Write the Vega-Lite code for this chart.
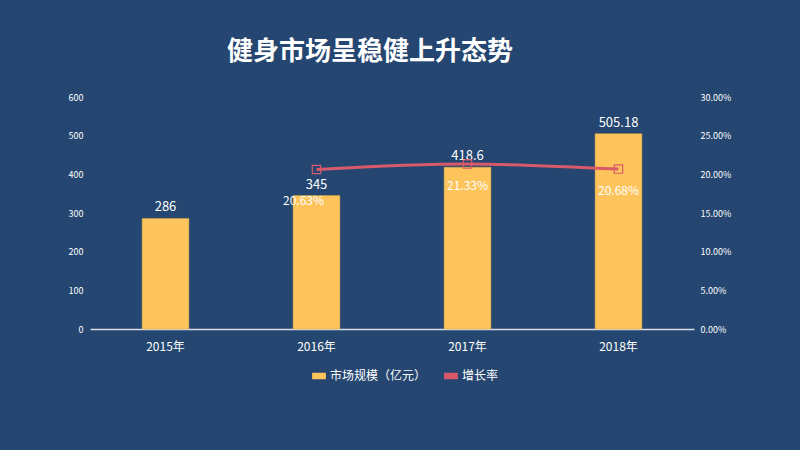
{
  "$schema": "https://vega.github.io/schema/vega-lite/v6.json",
  "autosize": {"type": "none"},
  "width": 604,
  "height": 232,
  "padding": {"left": 90, "top": 97, "right": 106, "bottom": 121},
  "background": "#254670",
  "title": {
    "text": "健身市场呈稳健上升态势",
    "anchor": "middle",
    "dx": -22,
    "offset": 28,
    "fontSize": 26,
    "fontWeight": "bold",
    "color": "#ffffff",
    "font": "Noto Sans CJK SC"
  },
  "config": {
    "view": {"stroke": null},
    "font": "Noto Sans CJK SC",
    "axis": {"grid": false, "ticks": false, "labelColor": "#ffffff", "titleColor": "#ffffff", "labelOverlap": false},
    "legend": {"labelColor": "#ffffff"}
  },
  "data": {
    "values": [
      {"year": "2015年", "size": 286, "rate": null},
      {"year": "2016年", "size": 345, "rate": 0.2063},
      {"year": "2017年", "size": 418.6, "rate": 0.2133},
      {"year": "2018年", "size": 505.18, "rate": 0.2068}
    ]
  },
  "encoding": {
    "x": {
      "field": "year",
      "type": "nominal",
      "sort": null,
      "scale": {"paddingInner": 0.69, "paddingOuter": 0.345},
      "axis": {
        "title": null,
        "labelAngle": 0,
        "labelFontSize": 12,
        "labelPadding": 12,
        "domainColor": "#d9dde5",
        "domainWidth": 1.5
      }
    }
  },
  "layer": [
    {
      "encoding": {
        "y": {
          "field": "size",
          "type": "quantitative",
          "scale": {"domain": [0, 600]},
          "axis": {
            "title": null,
            "values": [0, 100, 200, 300, 400, 500, 600],
            "tickCount": 7,
            "labelOverlap": false,
            "labelFontSize": 9,
            "labelPadding": 7,
            "domain": false
          }
        }
      },
      "layer": [
        {
          "mark": {"type": "bar", "stroke": "#d8a84a", "strokeWidth": 0.5},
          "encoding": {
            "color": {
              "datum": "市场规模（亿元）",
              "type": "nominal",
              "scale": {"domain": ["市场规模（亿元）", "增长率"], "range": ["#fdc45c", "#d95a6b"]},
              "legend": {
                "title": null,
                "orient": "none",
                "legendX": 222,
                "legendY": 272,
                "direction": "horizontal",
                "labelFontSize": 12,
                "symbolType": "M-1,-0.4H1V0.4H-1Z",
                "symbolSize": 150,
                "columnPadding": 14
              }
            }
          }
        },
        {
          "mark": {"type": "text", "baseline": "bottom", "dy": -4, "fontSize": 13, "color": "#ffffff"},
          "encoding": {
            "text": {"field": "size", "type": "quantitative"}
          }
        }
      ]
    },
    {
      "transform": [{"filter": "datum.rate != null"}],
      "encoding": {
        "y": {
          "field": "rate",
          "type": "quantitative",
          "scale": {"domain": [0, 0.3]},
          "axis": {
            "title": null,
            "orient": "right",
            "format": ".2%",
            "values": [0, 0.05, 0.1, 0.15, 0.2, 0.25, 0.3],
            "tickCount": 7,
            "labelOverlap": false,
            "labelFontSize": 9,
            "labelPadding": 6,
            "domain": false
          }
        }
      },
      "layer": [
        {
          "mark": {"type": "line", "interpolate": "monotone", "strokeWidth": 3,
                   "point": {"shape": "square", "filled": false, "size": 70, "strokeWidth": 1.2}},
          "encoding": {
            "color": {"datum": "增长率", "type": "nominal"}
          }
        },
        {
          "transform": [{"filter": "datum.year !== '2016年'"}],
          "mark": {"type": "text", "baseline": "middle", "dy": 22, "fontSize": 12, "color": "#ffffff"},
          "encoding": {
            "text": {"field": "rate", "type": "quantitative", "format": ".2%"}
          }
        },
        {
          "transform": [{"filter": "datum.year === '2016年'"}],
          "mark": {"type": "text", "baseline": "middle", "dx": -13, "dy": 32, "fontSize": 12, "color": "#ffffff"},
          "encoding": {
            "text": {"field": "rate", "type": "quantitative", "format": ".2%"}
          }
        }
      ]
    }
  ],
  "resolve": {"scale": {"y": "independent"}}
}
